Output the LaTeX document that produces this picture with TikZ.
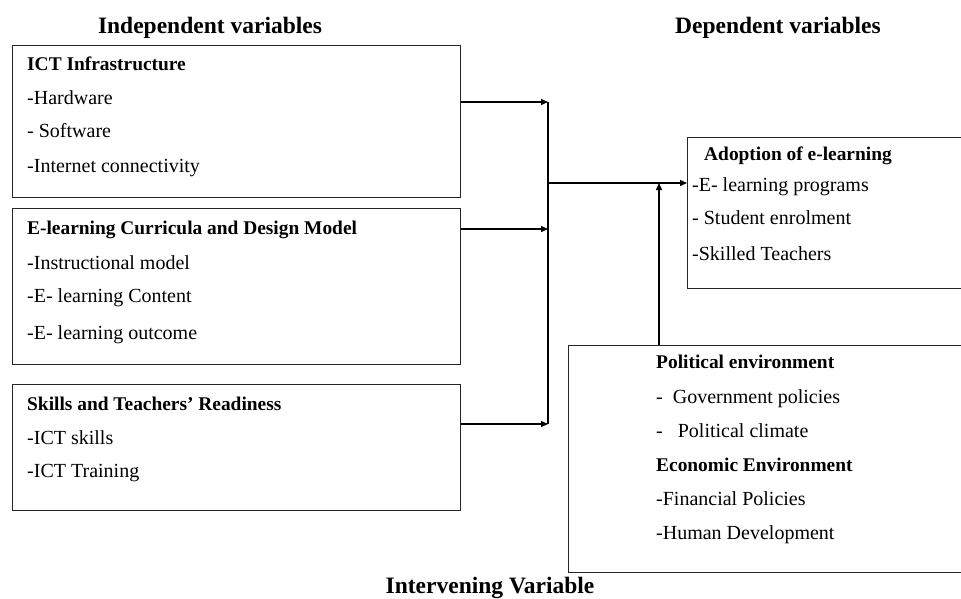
\documentclass[tikz,border=0pt]{standalone}
\usepackage{fontspec}
\setmainfont{Liberation Serif}
\usetikzlibrary{arrows.meta}
\begin{document}
\begin{tikzpicture}[x=1pt,y=-1pt,
  box/.style={draw=black!85, line width=0.9pt, anchor=north west, inner sep=0pt},
  hdr/.style={anchor=base, font=\fontsize{23.5}{27}\selectfont\bfseries, inner sep=0pt},
  ttl/.style={anchor=base west, font=\fontsize{19.4}{22}\selectfont\bfseries, inner sep=0pt},
  itm/.style={anchor=base west, font=\fontsize{20}{23}\selectfont, inner sep=0pt},
  conn/.style={line width=1.3pt, black},
  arr/.style={conn, -{Triangle[length=7pt,width=6pt]}}]
\useasboundingbox (0,0) rectangle (961,598);
% boxes
\node[box, minimum width=448pt, minimum height=152pt] (b1) at (12,45) {};
\node[box, minimum width=448pt, minimum height=156pt] (b2) at (12,208) {};
\node[box, minimum width=448pt, minimum height=126pt] (b3) at (12,384) {};
\node[box, minimum width=280pt, minimum height=151pt] (adopt) at (687,137) {};
\node[box, minimum width=400pt, minimum height=227pt] (interv) at (568,345) {};
% headers
\node[hdr] (hind) at (210,33) {Independent variables};
\node[hdr] (hdep) at (778,33) {Dependent variables};
\node[hdr] (hint) at (490,593) {Intervening Variable};
% box 1
\node[ttl] (t1) at (27,70) {ICT Infrastructure};
\node[itm] (t1a) at (27,104) {-Hardware};
\node[itm] (t1b) at (27,137) {- Software};
\node[itm] (t1c) at (27,172) {-Internet connectivity};
% box 2
\node[ttl] (t2) at (27,234) {E-learning Curricula and Design Model};
\node[itm] (t2a) at (27,269) {-Instructional model};
\node[itm] (t2b) at (27,302) {-E- learning Content};
\node[itm] (t2c) at (27,339) {-E- learning outcome};
% box 3
\node[ttl] (t3) at (27,410) {Skills and Teachers’ Readiness};
\node[itm] (t3a) at (27,444) {-ICT skills};
\node[itm] (t3b) at (27,477) {-ICT Training};
% adoption
\node[ttl] (t4) at (704,160) {Adoption of e-learning};
\node[itm] (t4a) at (692,191) {-E- learning programs};
\node[itm] (t4b) at (692,224) {- Student enrolment};
\node[itm] (t4c) at (692,260) {-Skilled Teachers};
% intervening
\node[ttl] (t5) at (656,368) {Political environment};
\node[itm] (t5a) at (656,403) {-\ \ Government policies};
\node[itm] (t5b) at (656,437) {-\ \ \ Political climate};
\node[ttl] (t5c) at (656,471) {Economic Environment};
\node[itm] (t5d) at (656,505) {-Financial Policies};
\node[itm] (t5e) at (656,539) {-Human Development};
% connectors
\coordinate (r1) at (548,102);
\coordinate (r2) at (548,229);
\coordinate (r3) at (548,424);
\coordinate (m) at (548,183);
\coordinate (iv) at (659,183);
\draw[arr] (b1.east |- r1) -- (r1);
\draw[arr] (b2.east |- r2) -- (r2);
\draw[arr] (b3.east |- r3) -- (r3);
\draw[conn] (r1) -- (r3);
\draw[arr] (m) -- (adopt.west |- m);
\draw[arr] (interv.north -| iv) -- (iv);
\end{tikzpicture}
\end{document}
